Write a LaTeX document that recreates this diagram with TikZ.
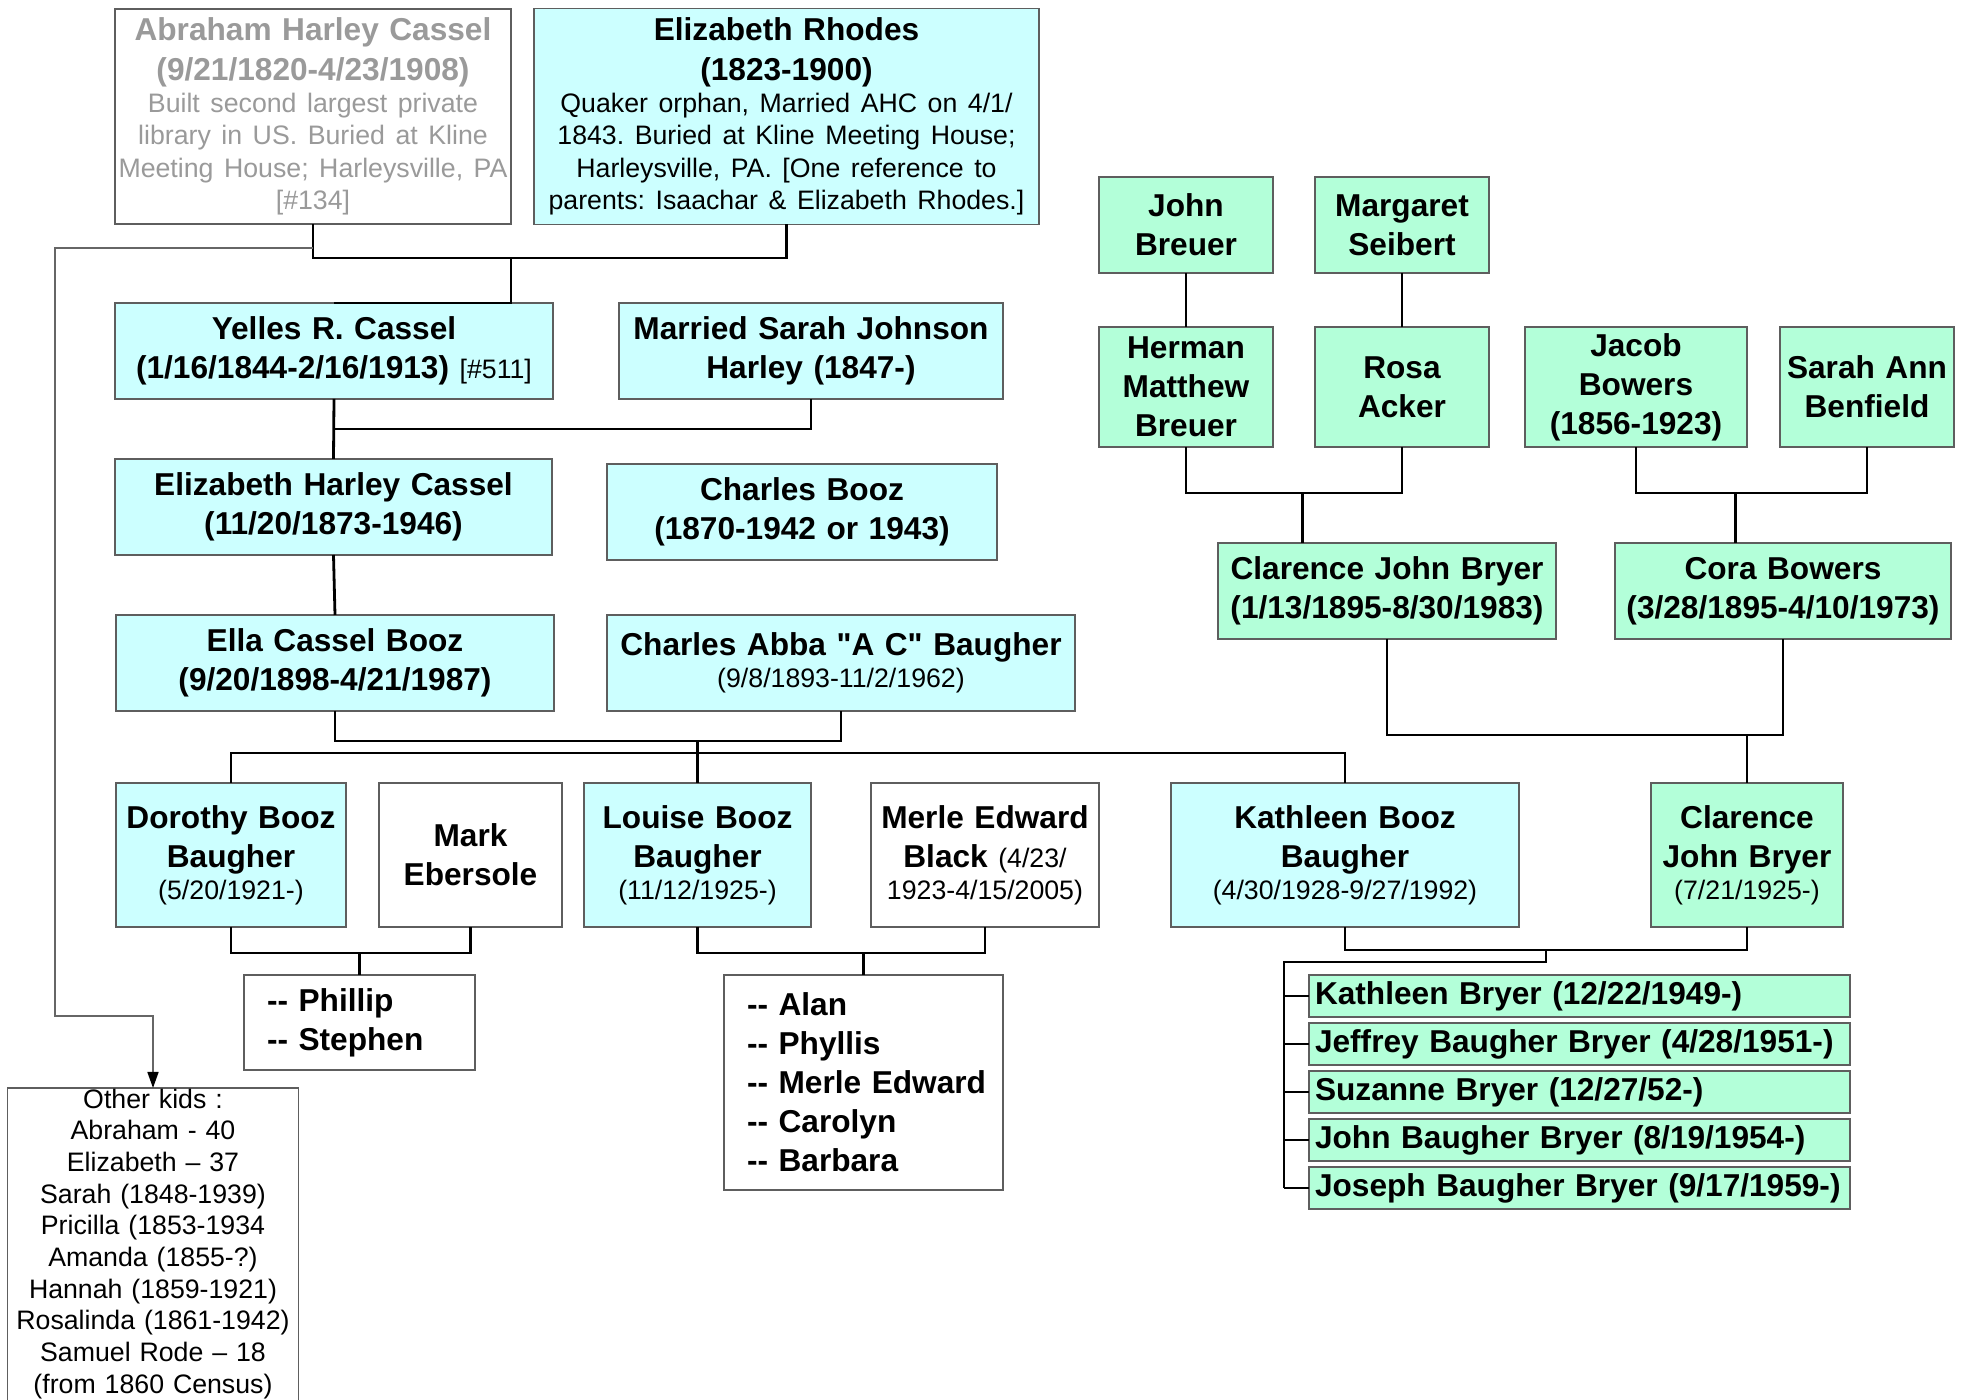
\documentclass[tikz,border=0pt]{standalone}
\usepackage{fontspec}
\setmainfont{Liberation Sans}
\usetikzlibrary{positioning,calc,arrows.meta}

\definecolor{cyanfill}{HTML}{CCFFFF}
\definecolor{mintfill}{HTML}{B3FFD9}
\definecolor{edgegray}{HTML}{5E5E5E}
\definecolor{fadedtext}{HTML}{9A9A9A}

\frenchspacing
\newcommand\bigname{\fontsize{9}{11.1}\selectfont\bfseries\hyphenpenalty=10000 }
\newcommand\smallnote{\fontsize{7.6}{9.2}\selectfont\mdseries}

\tikzset{
  person/.style={draw=edgegray, line width=0.18mm, font=\bigname, align=center, inner xsep=0pt, inner ysep=0.4mm, outer sep=0pt},
  wh/.style 2 args={text width=#1, minimum height=#2},
  cyanbox/.style={person, fill=cyanfill},
  mintbox/.style={person, fill=mintfill},
  plainbox/.style={person, fill=white},
  listbox/.style={plainbox, align=left, anchor=north west},
  kidrow/.style={mintbox, align=left, inner xsep=0.6mm, text width=52.9mm, minimum height=4.2mm, anchor=north west},
  link/.style={line width=0.28mm, black},
  notelink/.style={line width=0.16mm, draw=black!60, -{Triangle[width=1.1mm,length=1.6mm,color=black]}},
}

\begin{document}
\begin{tikzpicture}[x=0.1mm,y=-0.1mm]
\useasboundingbox (0,0) rectangle (1963,1400);
\clip (0,0) rectangle (1963,1400);

\node[plainbox, wh={39.6mm}{21.5mm}, anchor=north west, text=fadedtext] (abr) at (115,9) {Abraham Harley Cassel\\(9/21/1820-4/23/1908)\par{\smallnote Built second largest private\\library in US. Buried at Kline\\Meeting House; Harleysville, PA\\\relax[\#134]\par}};
\node[cyanbox, wh={50.5mm}{21.6mm}, right=2.3mm of abr] (eliz) {Elizabeth Rhodes\\(1823-1900)\par{\smallnote Quaker orphan, Married AHC on 4/1/\\1843. Buried at Kline Meeting House;\\Harleysville, PA. [One reference to\\parents: Isaachar \& Elizabeth Rhodes.]\par}};

\node[cyanbox, wh={43.8mm}{9.6mm}, anchor=north west] (yel) at (115,303) {Yelles R. Cassel\\(1/16/1844-2/16/1913) {\smallnote[\#511]}};
\node[cyanbox, wh={38.4mm}{9.6mm}, right=6.6mm of yel] (sar) {Married Sarah Johnson\\Harley (1847-)};

\node[cyanbox, wh={43.7mm}{9.6mm}, anchor=north west] (ehc) at (115,459) {Elizabeth Harley Cassel\\(11/20/1873-1946)};
\node[cyanbox, wh={39mm}{9.6mm}, right=5.5mm of ehc, yshift=-0.5mm] (cbz) {Charles Booz\\(1870-1942 or 1943)};

\node[cyanbox, wh={43.8mm}{9.6mm}, anchor=north west] (ella) at (116,615) {Ella Cassel Booz\\(9/20/1898-4/21/1987)};
\node[cyanbox, wh={46.8mm}{9.6mm}, right=5.3mm of ella] (cab) {Charles Abba \textquotedbl A C\textquotedbl\ Baugher\par{\smallnote (9/8/1893-11/2/1962)\par}};

\node[cyanbox, wh={23mm}{14.4mm}, anchor=north west] (dor) at (116,783) {Dorothy Booz\\Baugher\par{\smallnote (5/20/1921-)\par}};
\node[plainbox, wh={18.3mm}{14.4mm}, right=3.3mm of dor] (mark) {Mark\\Ebersole};
\node[cyanbox, wh={22.7mm}{14.4mm}, right=2.2mm of mark] (lou) {Louise Booz\\Baugher\par{\smallnote (11/12/1925-)\par}};
\node[plainbox, wh={22.8mm}{14.4mm}, right=6mm of lou] (merle) {Merle Edward\\Black {\smallnote (4/23/}\par{\smallnote 1923-4/15/2005)\par}};
\node[cyanbox, wh={34.8mm}{14.4mm}, right=7.2mm of merle] (kath) {Kathleen Booz\\Baugher\par{\smallnote (4/30/1928-9/27/1992)\par}};
\node[mintbox, wh={19.2mm}{14.4mm}, right=13.2mm of kath] (cjb) {Clarence\\John Bryer\par{\smallnote (7/21/1925-)\par}};

\node[listbox, inner xsep=2.3mm, text width=18.5mm, minimum height=9.5mm] (phil) at (244,975) {-{}- Phillip\\-{}- Stephen};
\node[listbox, inner xsep=2.3mm, text width=23.3mm, minimum height=21.5mm] (alan) at (724,975) {\mbox{-{}- Alan}\\\mbox{-{}- Phyllis}\\\mbox{-{}- Merle Edward}\\\mbox{-{}- Carolyn}\\\mbox{-{}- Barbara}};
\node[plainbox, font=\fontsize{7.6}{9}\selectfont, text width=29.1mm, inner ysep=0.1mm, anchor=north] (oth) at (153,1088) {Other kids :\\Abraham - 40\\Elizabeth -- 37\\Sarah (1848-1939)\\Pricilla (1853-1934\\Amanda (1855-?)\\Hannah (1859-1921)\\Rosalinda (1861-1942)\\Samuel Rode -- 18\\(from 1860 Census)\\\mbox{}};

\foreach \kid [count=\i] in {Kathleen Bryer (12/22/1949-), Jeffrey Baugher Bryer (4/28/1951-), Suzanne Bryer (12/27/52-), John Baugher Bryer (8/19/1954-), Joseph Baugher Bryer (9/17/1959-)}
  \node[kidrow] (gk\i) at (1309,{975+48*(\i-1)}) {\kid};

\node[mintbox, wh={17.4mm}{9.6mm}, anchor=north west] (jbr) at (1099,177) {John\\Breuer};
\node[mintbox, wh={17.4mm}{9.6mm}, right=4.2mm of jbr] (mar) {Margaret\\Seibert};
\node[mintbox, wh={17.4mm}{12mm}, anchor=north west] (her) at (1099,327) {Herman\\Matthew\\Breuer};
\node[mintbox, wh={17.4mm}{12mm}, right=4.2mm of her] (rosa) {Rosa\\Acker};
\node[mintbox, wh={22.2mm}{12mm}, right=3.6mm of rosa] (jac) {Jacob\\Bowers\\(1856-1923)};
\node[mintbox, wh={17.4mm}{12mm}, right=3.3mm of jac] (sab) {Sarah Ann\\Benfield};
\node[mintbox, wh={33.8mm}{9.6mm}, anchor=north west] (cjp) at (1218,543) {Clarence John Bryer\\(1/13/1895-8/30/1983)};
\node[mintbox, wh={33.6mm}{9.6mm}, right=5.9mm of cjp] (cora) {Cora Bowers\\(3/28/1895-4/10/1973)};

\coordinate (bend) at (55,1016);
\coordinate (trunk) at (1284,962);

\draw[link] (abr.south) -- ++(0,34) coordinate (ab) -| (eliz.south);
\draw[link] (ab -| abr.east) |- (yel.north);
\draw[notelink] ([yshift=-2.4mm]abr.south) -| (bend) -| (oth.north);
\draw[link] (yel.south) -- (ehc.north);
\coordinate (ys) at ($(yel.south)!0.5!(ehc.north)$);
\draw[link] (sar.south) |- (ys);
\draw[link] (ehc.south) -- (ella.north);
\draw[link] (ella.south) -- ++(0,30) coordinate (ec) -| (cab.south);
\draw[link] (ec -| lou.north) -- (lou.north);
\draw[link] (dor.north) -- ++(0,-30) -| (kath.north);
\draw[link] (dor.south) -- ++(0,26) coordinate (dm) -| (mark.south);
\draw[link] (dm -| phil.north) -- (phil.north);
\draw[link] (lou.south) -- ++(0,26) coordinate (lm) -| (merle.south);
\draw[link] (lm -| alan.north) -- (alan.north);
\draw[link] (kath.south) -- ++(0,23) coordinate (kc) -| (cjb.south);
\draw[link] ($(kc)!0.5!(kc -| cjb.south)$) |- (trunk) -- (trunk |- gk5.west);
\foreach \i in {1,...,5}
  \draw[link] (trunk |- gk\i.west) -- (gk\i.west);

\draw[link] (jbr.south) -- (her.north);
\draw[link] (mar.south) -- (rosa.north);
\draw[link] (her.south) -- ++(0,46) coordinate (hr) -| (rosa.south);
\coordinate (hrm) at ($(hr)!0.54!(hr -| rosa.south)$);
\draw[link] (hrm) -- (hrm |- cjp.north);
\draw[link] (jac.south) -- ++(0,46) coordinate (js) -| (sab.south);
\coordinate (jsm) at ($(js)!0.43!(js -| sab.south)$);
\draw[link] (jsm) -- (jsm |- cora.north);
\draw[link] (cjp.south) -- ++(0,96) coordinate (cc) -| (cora.south);
\draw[link] (cc -| cjb.north) -- (cjb.north);
\end{tikzpicture}
\end{document}
